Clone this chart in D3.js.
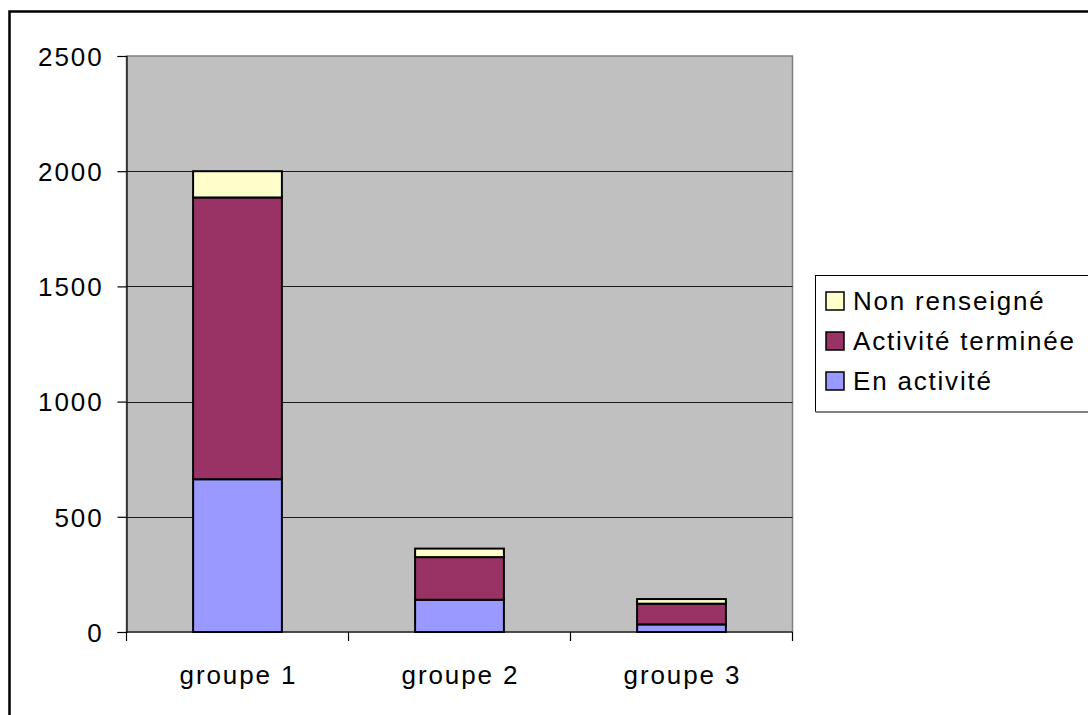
<!DOCTYPE html>
<html>
<head>
<meta charset="utf-8">
<script src="https://cdn.jsdelivr.net/npm/d3@7"></script>
<style>
  html, body { margin: 0; padding: 0; background: #fff; }
  svg { display: block; }
  text { font-family: "Liberation Sans", Arial, sans-serif; fill: #000; }
</style>
</head>
<body>
<svg id="chart" width="1088" height="715"></svg>
<script>
// Categories and stacked series
const categories = ["groupe 1", "groupe 2", "groupe 3"];
const enActivite = [663, 140, 33];
const activiteTerminee = [1223, 185, 90];
const nonRenseigne = [114, 37, 20];
const seriesNames = ["En activité", "Activité terminée", "Non renseigné"];
const seriesColors = ["#9999FF", "#993366", "#FFFFCC"];
const yTicks = [0, 500, 1000, 1500, 2000, 2500];

const svg = d3.select("#chart");
const W = 1088, H = 715;
const FONT = "26px";
const SPACING = "1.9px";

// Outer frame (runs off the right and bottom edges)
svg.append("rect")
  .attr("x", 9.5).attr("y", 11.5)
  .attr("width", W + 20).attr("height", H + 20)
  .attr("fill", "#fff").attr("stroke", "#000").attr("stroke-width", 2.5);

const plot = { left: 126.5, top: 56, right: 792.5, bottom: 632 };

const x = d3.scaleBand()
  .domain(categories)
  .range([plot.left, plot.right])
  .paddingInner(0.6)
  .paddingOuter(0.3);

const y = d3.scaleLinear()
  .domain([0, 2500])
  .range([plot.bottom, plot.top]);

// Plot background
svg.append("rect")
  .attr("x", plot.left).attr("y", plot.top)
  .attr("width", plot.right - plot.left).attr("height", plot.bottom - plot.top)
  .attr("fill", "#C0C0C0").attr("stroke", "#808080").attr("stroke-width", 1.5);

// Horizontal gridlines
svg.append("g").selectAll("line")
  .data(yTicks.filter(d => d > 0 && d < 2500))
  .join("line")
  .attr("x1", plot.left).attr("x2", plot.right)
  .attr("y1", d => Math.round(y(d)) + 0.5).attr("y2", d => Math.round(y(d)) + 0.5)
  .attr("stroke", "#1a1a1a").attr("stroke-width", 1);

// Stacked bars
const table = categories.map((c, i) => ({
  cat: c,
  "En activité": enActivite[i],
  "Activité terminée": activiteTerminee[i],
  "Non renseigné": nonRenseigne[i]
}));
const stacked = d3.stack().keys(seriesNames)(table);
const color = d3.scaleOrdinal().domain(seriesNames).range(seriesColors);

svg.append("g").selectAll("g")
  .data(stacked)
  .join("g")
  .attr("fill", d => color(d.key))
  .selectAll("rect")
  .data(d => d)
  .join("rect")
  .attr("x", d => x(d.data.cat))
  .attr("width", x.bandwidth())
  .attr("y", d => y(d[1]))
  .attr("height", d => y(d[0]) - y(d[1]))
  .attr("stroke", "#000")
  .attr("stroke-width", 2);

// Y axis
const yAxis = svg.append("g")
  .attr("transform", `translate(${plot.left},0)`)
  .call(d3.axisLeft(y).tickValues(yTicks).tickSize(9).tickPadding(0).tickFormat(d3.format("d")));
yAxis.select(".domain").attr("stroke", "#000").attr("stroke-width", 1.2);
yAxis.selectAll(".tick line").attr("stroke", "#000").attr("stroke-width", 1.2);
yAxis.selectAll(".tick text")
  .attr("x", -23)
  .attr("dy", "0.36em")
  .style("font-size", FONT)
  .style("letter-spacing", SPACING)
  .style("font-family", "'Liberation Sans', Arial, sans-serif")
  .attr("fill", "#000");

// X axis: category labels with ticks at band boundaries
svg.append("line")
  .attr("x1", plot.left).attr("x2", plot.right)
  .attr("y1", plot.bottom).attr("y2", plot.bottom)
  .attr("stroke", "#000").attr("stroke-width", 1.2);
const boundaries = d3.range(categories.length + 1).map(i => plot.left + i * x.step());
svg.append("g").selectAll("line")
  .data(boundaries)
  .join("line")
  .attr("x1", d => d).attr("x2", d => d)
  .attr("y1", plot.bottom).attr("y2", plot.bottom + 9)
  .attr("stroke", "#000").attr("stroke-width", 1.2);
svg.append("g").selectAll("text")
  .data(categories)
  .join("text")
  .attr("x", d => x(d) + x.bandwidth() / 2 + 1)
  .attr("y", 684)
  .attr("text-anchor", "middle")
  .style("font-size", FONT)
  .style("letter-spacing", SPACING)
  .text(d => d);

// Legend (box runs past the right edge)
const legend = svg.append("g");
legend.append("rect")
  .attr("x", 815.5).attr("y", 275.5)
  .attr("width", 300).attr("height", 136)
  .attr("fill", "#fff").attr("stroke", "#000").attr("stroke-width", 1);
legend.append("line")
  .attr("x1", 815.5).attr("x2", 1100)
  .attr("y1", 412).attr("y2", 412)
  .attr("stroke", "#808080").attr("stroke-width", 2);

const legendOrder = seriesNames.slice().reverse();
const items = legend.selectAll("g.item")
  .data(legendOrder)
  .join("g")
  .attr("class", "item")
  .attr("transform", (d, i) => `translate(0,${301 + i * 40})`);
items.append("rect")
  .attr("x", 826).attr("y", -9)
  .attr("width", 18).attr("height", 18)
  .attr("fill", d => color(d))
  .attr("stroke", "#000").attr("stroke-width", 1.5);
items.append("text")
  .attr("x", 853)
  .attr("dy", "0.36em")
  .style("font-size", FONT)
  .style("letter-spacing", "1.8px")
  .text(d => d);
</script>
</body>
</html>
